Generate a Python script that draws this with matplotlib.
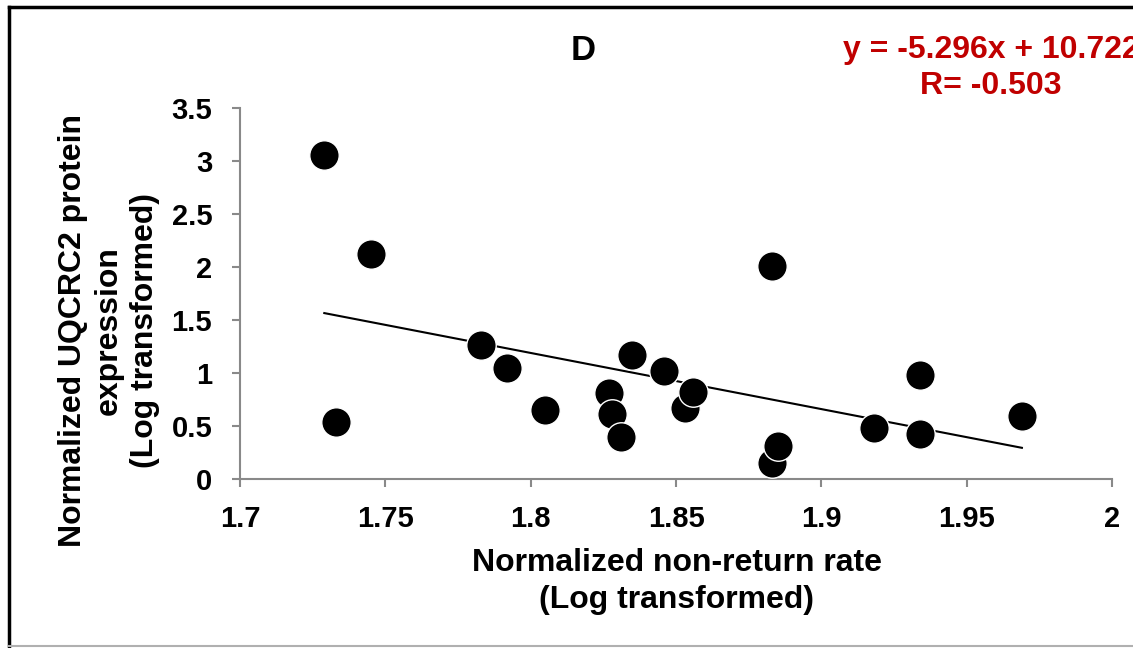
import numpy as np
import matplotlib
matplotlib.use('Agg')
import matplotlib.pyplot as plt
from matplotlib.lines import Line2D

# Normalized non-return rate vs UQCRC2 protein (both log transformed)
non_return = [1.729, 1.745, 1.733, 1.783, 1.792, 1.805, 1.827, 1.828, 1.831, 1.835,
              1.846, 1.853, 1.856, 1.883, 1.883, 1.885, 1.918, 1.934, 1.934, 1.969]
uqcrc2 = [3.06, 2.12, 0.54, 1.26, 1.05, 0.65, 0.81, 0.61, 0.40, 1.17,
          1.02, 0.67, 0.82, 2.01, 0.15, 0.31, 0.48, 0.98, 0.42, 0.59]

slope = -5.296
intercept = 10.722
r_value = -0.503

x_ticks = [1.7, 1.75, 1.8, 1.85, 1.9, 1.95, 2.0]
x_tick_labels = ['1.7', '1.75', '1.8', '1.85', '1.9', '1.95', '2']
y_ticks = [0, 0.5, 1, 1.5, 2, 2.5, 3, 3.5]
y_tick_labels = ['0', '0.5', '1', '1.5', '2', '2.5', '3', '3.5']

plt.rcParams['font.family'] = ['Liberation Sans', 'DejaVu Sans']
plt.rcParams['font.weight'] = 'bold'

W, H = 1133, 648
fig = plt.figure(figsize=(W / 100, H / 100), dpi=100)
ax = fig.add_axes([240 / W, 1 - 479 / H, 872 / W, 371 / H])

# trend line over the data range
xs = np.array([min(non_return), max(non_return)])
ax.plot(xs, slope * xs + intercept, color='black', lw=1.5, zorder=2)
ax.scatter(non_return, uqcrc2, s=450, color='black', edgecolors='white',
           linewidths=1, zorder=3, clip_on=False)

ax.set_xlim(1.7, 2.0)
ax.set_ylim(0, 3.5)
ax.set_xticks(x_ticks)
ax.set_xticklabels(x_tick_labels)
ax.set_yticks(y_ticks)
ax.set_yticklabels(y_tick_labels)

grey = '#898989'
for side in ['top', 'right']:
    ax.spines[side].set_visible(False)
for side in ['left', 'bottom']:
    ax.spines[side].set_color(grey)
    ax.spines[side].set_linewidth(1.5)
ax.tick_params(axis='both', direction='out', length=6, width=1.5, color=grey,
               labelsize=21, labelcolor='black')
ax.tick_params(axis='x', pad=13)
ax.tick_params(axis='y', pad=14)
for lbl in ax.get_xticklabels() + ax.get_yticklabels():
    lbl.set_fontweight('bold')

ax.set_xlabel('Normalized non-return rate\n(Log transformed)', fontsize=23,
              fontweight='bold', linespacing=1.3, va='center', ha='center')
ax.xaxis.set_label_coords(0.501, -0.277)
ax.set_ylabel('Normalized UQCRC2 protein\nexpression\n(Log transformed)', fontsize=23,
              fontweight='bold', linespacing=1.27, va='center', ha='center')
ax.yaxis.set_label_coords(-0.1505, 0.40)

fig.text(583 / W, 1 - 51 / H, 'D', fontsize=25, fontweight='bold',
         ha='center', va='center')
fig.text(991 / W, 1 - 68 / H, f'y = {slope}x + {intercept}\nR= {r_value}',
         fontsize=23, fontweight='bold', color='#C00000', ha='center', va='center',
         linespacing=1.25, multialignment='center')

# chart frame
fig.add_artist(Line2D([9 / W, 1.01], [1 - 7 / H, 1 - 7 / H], transform=fig.transFigure,
                      color='black', lw=2.5))
fig.add_artist(Line2D([9 / W, 9 / W], [1 - 7 / H, 1 - 646 / H], transform=fig.transFigure,
                      color='black', lw=2.5))
fig.add_artist(Line2D([9 / W, 1.01], [1 - 646 / H, 1 - 646 / H], transform=fig.transFigure,
                      color='#B0B0B0', lw=1.5))

fig.savefig('out.png', dpi=100)
